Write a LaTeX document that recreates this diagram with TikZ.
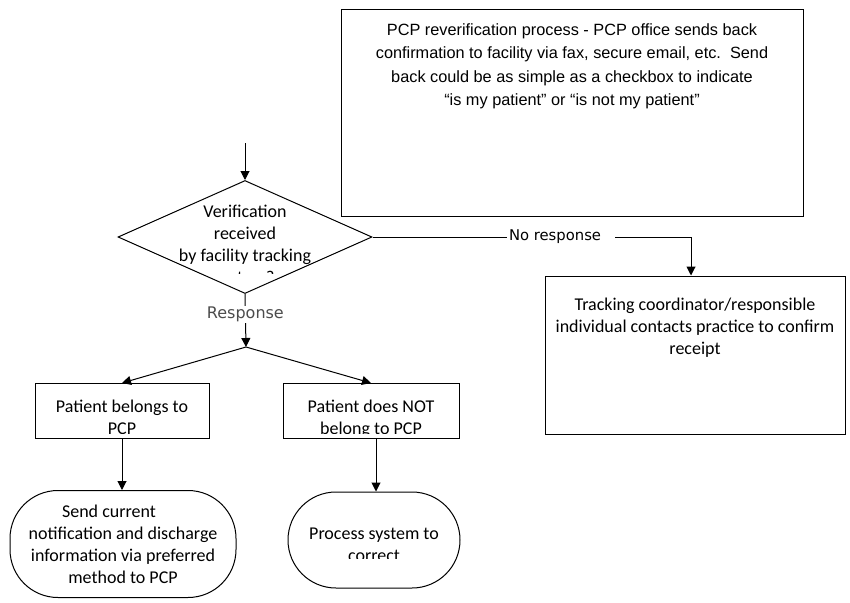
\documentclass[tikz,border=0pt]{standalone}
\usepackage{fontspec}
\setmainfont{Carlito}
\newfontfamily\arialfont{Liberation Sans}
\newfontfamily\labelfont{DejaVu Sans}
\usetikzlibrary{shapes.geometric, arrows.meta}

\begin{document}
\begin{tikzpicture}[
	x = 1pt, y = -1pt,
	line width = 1pt,
	arrow/.style = {-{Triangle[width = 9pt, length = 9pt]}},
	box/.style = {draw, rectangle, inner sep = 0},
	decision/.style = {draw, diamond, inner sep = 0},
	terminal/.style = {draw, rectangle, rounded corners = 48pt, inner sep = 0},
	txt/.style = {align = center, inner sep = 0, font = \fontsize{18}{22}\selectfont},
	edgelabel/.style = {fill = white, font = \labelfont\fontsize{#1}{16}\selectfont}
]

\useasboundingbox (0, 0) rectangle (850, 602);

% boxes
\node[box, minimum width = 462, minimum height = 206] (pcp) at (572, 113) {};
\node[decision, minimum width = 254, minimum height = 113] (verif) at (245, 237) {};
\coordinate (entry) at (245, 143);
\coordinate (split) at (246, 347);
\node[box, minimum width = 174, minimum height = 55] (mine) at (122, 411) {};
\node[box, minimum width = 176, minimum height = 55] (notmine) at (371, 411) {};
\node[terminal, minimum width = 226, minimum height = 107] (send) at (123, 544) {};
\node[terminal, minimum width = 172, minimum height = 96] (correct) at (374, 540) {};
\node[box, minimum width = 300, minimum height = 158] (track) at (695, 355) {};

% texts
\node[txt, anchor = north, font = \arialfont\fontsize{16.3}{23.4}\selectfont] (pcptxt) at (572, 23)
	{PCP reverification process - PCP office sends back\\
	confirmation to facility via fax, secure email, etc.\ \ Send\\
	back could be as simple as a checkbox to indicate\\
	“is my patient” or “is not my patient”};
\begin{scope}
	\clip (120, 195) rectangle (370, 273.5);
	\node[txt, anchor = north] (veriftxt) at (245, 205)
		{Verification\\ received\\ by facility tracking\\ system?};
\end{scope}
\begin{scope}
	\clip (36, 386) rectangle (208, 433);
	\node[txt, anchor = north] (minetxt) at (122, 399)
		{Patient belongs to\\ PCP};
\end{scope}
\begin{scope}
	\clip (284, 386) rectangle (458, 433);
	\node[txt, anchor = north] (notminetxt) at (371, 399)
		{Patient does NOT\\ belong to PCP};
\end{scope}
\begin{scope}
	\clip (290, 515) rectangle (458, 558);
	\node[txt, anchor = north] (correcttxt) at (374, 527)
		{Process system to\\ correct};
\end{scope}
\node[txt, anchor = north] (sendtxt) at (123, 504)
	{Send current\hspace*{28pt}\\ notification and discharge\\ information via preferred\\ method to PCP};
\node[txt, anchor = north] (tracktxt) at (695, 297)
	{Tracking coordinator/responsible\\ individual contacts practice to confirm\\ receipt};

% connectors
\draw[arrow] (entry) -- (verif.north);
\draw[arrow] (verif.south) -- node[pos = 0.38, edgelabel = 16, inner sep = 1pt, text = black!70] (resp) {Response} (split);
\draw[arrow] (split) -- (mine.north);
\draw[arrow] (split) -- (notmine.north);
\draw[arrow] (mine.south) -- (send.north -| mine.south);
\draw[arrow] (notmine.south -| 376, 0) -- (correct.north -| 376, 0);
\draw[arrow] (verif.east) -- node[pos = 0.592, edgelabel = 14.8, inner sep = 2pt] (nores) {No response\hspace*{12pt}} (691, 237) -- (track.north -| 691, 0);

\end{tikzpicture}
\end{document}
